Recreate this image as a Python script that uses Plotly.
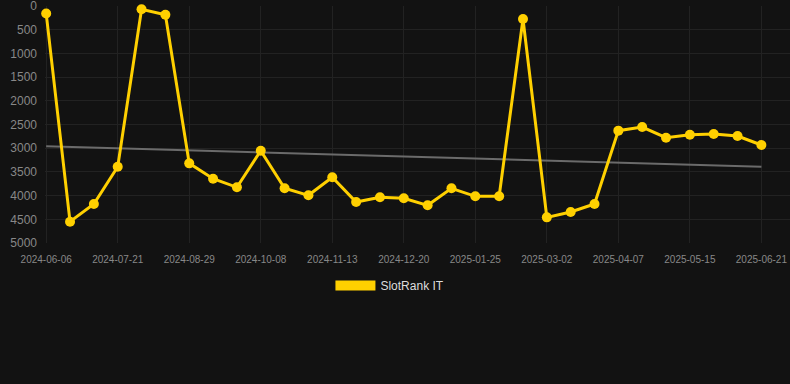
import numpy as np
import plotly.graph_objects as go

dates = ["2024-06-06", "2024-06-21", "2024-07-06", "2024-07-21", "2024-08-03", "2024-08-16",
         "2024-08-29", "2024-09-11", "2024-09-24", "2024-10-08", "2024-10-20", "2024-11-01",
         "2024-11-13", "2024-11-25", "2024-12-08", "2024-12-20", "2025-01-01", "2025-01-13",
         "2025-01-25", "2025-02-06", "2025-02-18", "2025-03-02", "2025-03-14", "2025-03-26",
         "2025-04-07", "2025-04-20", "2025-05-02", "2025-05-15", "2025-05-27", "2025-06-09",
         "2025-06-21"]
ranks = [160, 4550, 4177, 3390, 70, 183, 3320, 3643, 3825, 3053, 3846, 3994, 3614, 4135,
         4036, 4057, 4205, 3846, 4015, 4015, 274, 4459, 4346, 4177, 2630, 2553, 2778, 2715,
         2700, 2743, 2932]
tick_labels = dates[::3]
y_ticks = [0, 500, 1000, 1500, 2000, 2500, 3000, 3500, 4000, 4500, 5000]

idx = np.arange(len(ranks))
slope, intercept = np.polyfit(idx, ranks, 1)
trend = slope * idx + intercept

YELLOW = "#FFD000"
fig = go.Figure()
fig.add_trace(go.Scatter(x=dates, y=trend, mode="lines",
                         line=dict(color="#6b6b6b", width=2), showlegend=False,
                         hoverinfo="skip"))
fig.add_trace(go.Scatter(x=dates, y=ranks, mode="lines+markers",
                         line=dict(color=YELLOW, width=3),
                         marker=dict(color=YELLOW, size=10), showlegend=False,
                         cliponaxis=False))
fig.add_trace(go.Scatter(x=[None], y=[None], mode="lines", name="SlotRank IT",
                         line=dict(color=YELLOW, width=10), showlegend=True))

fig.update_layout(
    width=790, height=384,
    paper_bgcolor="#121212", plot_bgcolor="#121212",
    margin=dict(l=45, r=0, t=6, b=141),
    font=dict(family="Liberation Sans, Arial, sans-serif", color="#888888"),
    legend=dict(orientation="h", x=0.463, xanchor="center", y=-0.118, yanchor="top",
                font=dict(size=12, color="#dddddd"), itemwidth=40),
    xaxis=dict(type="category", range=[-0.05, 31.2], tickmode="array",
               tickvals=tick_labels, ticktext=tick_labels,
               tickfont=dict(size=10, color="#888888"), ticklabelstandoff=9,
               showgrid=True, gridcolor="#222222", gridwidth=1,
               zeroline=False, showline=False, ticks=""),
    yaxis=dict(range=[5000, 0], tickvals=y_ticks, ticklabeloverflow="allow",
               tickfont=dict(size=12, color="#888888"), ticklabelstandoff=7,
               showgrid=True, gridcolor="#222222", gridwidth=1,
               zeroline=False, showline=False, ticks=""),
)
fig.write_html("out.html")
